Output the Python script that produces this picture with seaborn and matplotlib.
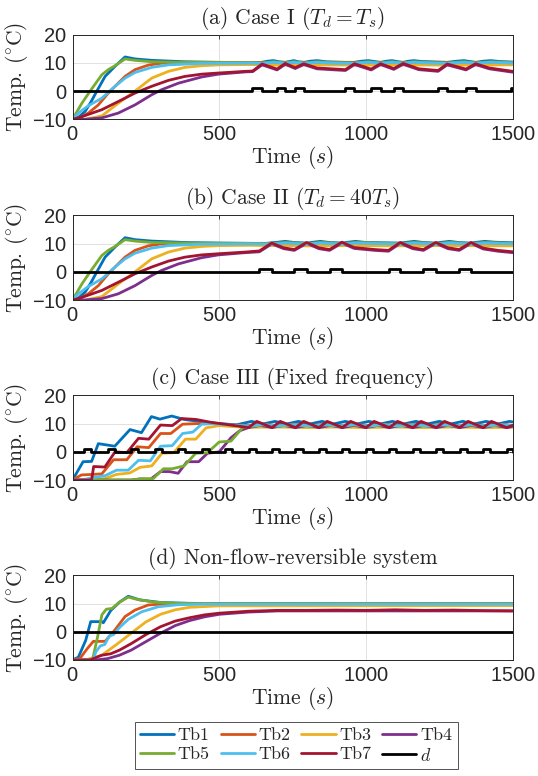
import pandas as pd
import seaborn as sns
import matplotlib
matplotlib.use("Agg")
import matplotlib.pyplot as plt
from matplotlib.lines import Line2D

# ---------------- Data ----------------
SERIES = ["Tb1", "Tb2", "Tb3", "Tb4", "Tb5", "Tb6", "Tb7"]
COLORS = ["#0072BD", "#D95319", "#EDB120", "#7E2F8E", "#77AC30", "#4DBEEE", "#A2142F"]
TITLES = [r"(a) Case I ($T_d = T_s$)", r"(b) Case II ($T_d = 40T_s$)",
          "(c) Case III (Fixed frequency)", "(d) Non-flow-reversible system"]
X_TICKS = [0, 500, 1000, 1500]
Y_TICKS = [-10, 0, 10, 20]

# start-up transient, shared by cases (a) and (b)
AB_TB1 = [(0, -10), (20, -9.3), (43, -7.2), (62, -4.0), (83, 0.0), (111, 5.2), (145, 8.8), (179, 12.1),
          (213, 11.4), (270, 10.9), (383, 10.4), (500, 10.2), (600, 10.1)]
AB_TB2 = [(0, -10), (20, -9.7), (54, -7.8), (88, -4.9), (122, -0.7), (145, 1.7), (179, 5.2), (213, 7.6),
          (258, 9.2), (304, 9.9), (400, 10.0), (600, 10.0)]
AB_TB3 = [(0, -10), (43, -10), (100, -8.8), (156, -4.3), (213, 0.0), (270, 4.6), (327, 7.0), (383, 8.4),
          (440, 9.0), (500, 9.3), (600, 9.4)]
AB_TB4 = [(0, -10), (43, -10), (100, -9.5), (156, -7.8), (213, -4.9), (270, -1.3), (304, 0.5), (361, 2.8),
          (440, 5.0), (497, 6.0), (589, 6.8)]
AB_TB5 = [(0, -10), (9, -8.4), (32, -4.3), (60, 0.0), (100, 5.8), (122, 7.6), (145, 9.0), (179, 11.4),
          (213, 10.9), (270, 10.4), (383, 10.2), (600, 10.1)]
AB_TB6 = [(0, -10), (20, -7.8), (54, -5.2), (100, -2.5), (145, 1.7), (179, 4.6), (213, 6.6), (270, 8.4),
          (327, 9.3), (440, 9.8), (600, 9.9)]
AB_TB7 = [(0, -10), (20, -9.5), (100, -6.6), (156, -3.7), (213, -0.7), (270, 1.7), (327, 3.8), (383, 5.2),
          (440, 6.0), (497, 6.4), (589, 7.0)]

# (a) Case I, after the disturbances start
A_PULSE_ON = [612, 697, 759, 930, 1018, 1095, 1246, 1341, 1495]
A_PULSE_OFF = [646, 725, 788, 961, 1050, 1127, 1277, 1374, 1500]
A_TB1_TAIL = [(640, 10.1), (665, 10.6), (685, 10.8), (705, 10.4), (725, 10.2), (740, 10.5), (754, 10.8),
              (770, 10.4), (790, 10.2), (810, 10.6), (833, 10.8), (865, 10.4), (930, 10.2), (960, 10.2),
              (985, 10.6), (1009, 10.8), (1035, 10.4), (1050, 10.2), (1070, 10.6), (1089, 10.8), (1110, 10.4),
              (1127, 10.2), (1145, 10.6), (1163, 10.8), (1190, 10.5), (1277, 10.2), (1310, 10.6), (1334, 10.8),
              (1360, 10.4), (1375, 10.2), (1400, 10.6), (1425, 10.8), (1455, 10.5), (1500, 10.3)]
A_TB2_TAIL = [(650, 10.0), (685, 10.2), (725, 10.0), (754, 10.2), (790, 10.0), (833, 10.2), (960, 10.0),
              (1009, 10.2), (1050, 10.0), (1089, 10.2), (1127, 10.0), (1163, 10.2), (1280, 10.0), (1334, 10.2),
              (1375, 10.0), (1425, 10.2), (1500, 10.0)]
A_TB3_TAIL = [(650, 9.3), (700, 9.2), (800, 9.3), (960, 9.2), (1100, 9.3), (1280, 9.2), (1500, 9.3)]
A_TB4_TAIL = [(614, 6.9), (646, 9.3), (697, 7.5), (725, 9.5), (759, 8.0), (788, 9.4), (833, 7.9), (930, 7.3),
              (961, 9.4), (1018, 7.5), (1050, 9.4), (1095, 7.7), (1127, 9.5), (1180, 7.6), (1246, 7.0),
              (1277, 9.3), (1341, 7.5), (1374, 9.4), (1420, 7.9), (1500, 6.7)]
A_TB5_TAIL = [(650, 10.0), (685, 10.4), (725, 10.0), (754, 10.4), (790, 10.0), (833, 10.4), (880, 10.1),
              (960, 10.0), (1009, 10.4), (1050, 10.0), (1089, 10.4), (1127, 10.0), (1163, 10.4), (1220, 10.1),
              (1280, 10.0), (1334, 10.4), (1375, 10.0), (1425, 10.4), (1500, 10.1)]
A_TB6_TAIL = [(650, 9.8), (685, 10.2), (725, 9.8), (754, 10.2), (790, 9.8), (833, 10.2), (880, 9.9),
              (960, 9.8), (1009, 10.2), (1050, 9.8), (1089, 10.2), (1127, 9.8), (1163, 10.2), (1220, 9.9),
              (1280, 9.8), (1334, 10.2), (1375, 9.8), (1425, 10.2), (1500, 9.9)]
A_TB7_TAIL = [(614, 7.1), (646, 9.6), (697, 7.8), (725, 9.8), (759, 8.3), (788, 9.7), (833, 8.2), (930, 7.6),
              (961, 9.7), (1018, 7.8), (1050, 9.7), (1095, 8.0), (1127, 9.8), (1180, 7.9), (1246, 7.3),
              (1277, 9.6), (1341, 7.8), (1374, 9.7), (1420, 8.2), (1500, 7.0)]

# (b) Case II
B_PULSE_ON = [637, 756, 876, 1077, 1196, 1318]
B_PULSE_OFF = [679, 798, 918, 1117, 1238, 1358]
B_TB1_TAIL = [(660, 10.1), (700, 10.5), (725, 10.8), (755, 10.4), (800, 10.2), (820, 10.5), (845, 10.8),
              (875, 10.4), (920, 10.2), (940, 10.5), (965, 10.8), (1000, 10.4), (1060, 10.3), (1117, 10.2),
              (1140, 10.5), (1165, 10.8), (1195, 10.4), (1238, 10.2), (1260, 10.5), (1285, 10.8), (1315, 10.4),
              (1358, 10.2), (1380, 10.5), (1405, 10.8), (1440, 10.5), (1500, 10.3)]
B_TB2_TAIL = [(680, 10.0), (725, 10.2), (800, 10.0), (845, 10.2), (920, 10.0), (965, 10.2), (1117, 10.0),
              (1165, 10.2), (1238, 10.0), (1285, 10.2), (1358, 10.0), (1405, 10.2), (1500, 10.0)]
B_TB3_TAIL = [(700, 9.3), (800, 9.2), (950, 9.3), (1100, 9.2), (1250, 9.3), (1500, 9.2)]
B_TB4_TAIL = [(637, 7.1), (679, 9.9), (720, 8.2), (756, 7.6), (798, 10.1), (840, 8.2), (876, 7.6), (918, 10.2),
              (960, 8.3), (1030, 7.6), (1077, 7.3), (1117, 10.1), (1160, 8.2), (1196, 7.6), (1238, 10.1),
              (1280, 8.2), (1318, 7.6), (1358, 10.1), (1400, 8.1), (1450, 7.3), (1500, 6.8)]
B_TB5_TAIL = [(680, 10.0), (725, 10.4), (800, 10.0), (845, 10.4), (920, 10.0), (965, 10.4), (1117, 10.0),
              (1165, 10.4), (1238, 10.0), (1285, 10.4), (1358, 10.0), (1405, 10.4), (1500, 10.1)]
B_TB6_TAIL = [(680, 9.8), (725, 10.2), (800, 9.8), (845, 10.2), (920, 9.8), (965, 10.2), (1117, 9.8),
              (1165, 10.2), (1238, 9.8), (1285, 10.2), (1358, 9.8), (1405, 10.2), (1500, 9.9)]
B_TB7_TAIL = [(637, 7.4), (679, 10.2), (720, 8.5), (756, 7.9), (798, 10.4), (840, 8.5), (876, 7.9), (918, 10.5),
              (960, 8.6), (1030, 7.9), (1077, 7.6), (1117, 10.4), (1160, 8.5), (1196, 7.9), (1238, 10.4),
              (1280, 8.5), (1318, 7.9), (1358, 10.4), (1400, 8.4), (1450, 7.6), (1500, 7.1)]

# (c) Case III, fixed-frequency switching
C_PULSE_ON = [40, 120, 200, 280, 360, 440, 520, 600, 680, 760, 840, 920, 1000, 1080, 1160, 1240, 1320, 1400, 1480]
C_PULSE_OFF = [64, 144, 224, 304, 384, 464, 544, 624, 704, 784, 864, 944, 1024, 1104, 1184, 1264, 1344, 1424, 1500]
C_TB1 = [(0, -10), (36, -3.5), (65, -3.4), (88, 2.9), (144, 2.0), (196, 7.9), (235, 6.8), (269, 12.5),
         (298, 11.6), (338, 12.7), (380, 11.5), (430, 10.8), (500, 10.0), (560, 9.6), (610, 10.8), (650, 9.9),
         (690, 10.8), (730, 9.9), (770, 10.8), (810, 9.9), (850, 10.8), (890, 9.9), (930, 10.8), (970, 9.9),
         (1010, 10.8), (1050, 9.9), (1090, 10.8), (1130, 9.9), (1170, 10.8), (1210, 9.9), (1250, 10.8),
         (1290, 9.9), (1330, 10.8), (1370, 9.9), (1410, 10.8), (1450, 9.9), (1490, 10.8), (1500, 10.6)]
C_TB2 = [(0, -10), (30, -8.2), (70, -8.0), (100, -7.8), (140, -2.8), (185, -2.8), (220, 1.8), (260, 1.5),
         (300, 6.5), (335, 6.5), (375, 9.8), (420, 10.0), (480, 10.0), (540, 9.5), (600, 9.4), (650, 9.8),
         (700, 9.3), (760, 9.8), (810, 9.3), (860, 9.8), (910, 9.3), (960, 9.8), (1010, 9.3), (1060, 9.8),
         (1110, 9.3), (1160, 9.8), (1210, 9.3), (1260, 9.8), (1310, 9.3), (1360, 9.8), (1410, 9.3),
         (1460, 9.8), (1500, 9.4)]
C_TB3 = [(0, -10), (70, -10), (110, -9.5), (150, -8.0), (195, -7.5), (230, -5.5), (270, -5.0), (305, -0.5),
         (345, -0.3), (385, 4.5), (420, 4.5), (455, 8.5), (500, 9.3), (540, 9.0), (600, 8.7), (700, 8.8),
         (800, 8.6), (900, 8.8), (1000, 8.6), (1100, 8.8), (1200, 8.6), (1300, 8.8), (1400, 8.6), (1500, 8.7)]
C_TB4 = [(0, -10), (200, -10), (230, -9.6), (265, -9.8), (300, -7.0), (330, -7.0), (360, -7.6), (390, -3.5),
         (430, -3.5), (460, -0.5), (500, 0.0), (540, 5.0), (570, 7.5), (600, 8.6), (640, 9.4), (680, 8.6),
         (720, 9.4), (760, 8.6), (800, 9.4), (840, 8.6), (880, 9.4), (920, 8.6), (960, 9.4), (1000, 8.6),
         (1040, 9.4), (1080, 8.6), (1120, 9.4), (1160, 8.6), (1200, 9.4), (1240, 8.6), (1280, 9.4),
         (1320, 8.6), (1360, 9.4), (1400, 8.6), (1440, 9.4), (1480, 8.6), (1500, 9.0)]
C_TB5 = [(0, -10), (200, -10), (240, -9.5), (275, -9.5), (310, -6.0), (340, -6.0), (380, -5.0), (420, -0.5),
         (460, -0.3), (500, 3.5), (540, 3.8), (580, 8.6), (610, 9.0), (650, 9.6), (700, 9.1), (760, 9.6),
         (810, 9.1), (860, 9.6), (910, 9.1), (960, 9.6), (1010, 9.1), (1060, 9.6), (1110, 9.1), (1160, 9.6),
         (1210, 9.1), (1260, 9.6), (1310, 9.1), (1360, 9.6), (1410, 9.1), (1460, 9.6), (1500, 9.2)]
C_TB6 = [(0, -10), (40, -9.8), (75, -9.0), (110, -8.5), (150, -6.5), (190, -6.5), (225, -3.0), (265, -3.2),
         (300, 2.0), (340, 2.2), (375, 6.5), (410, 7.0), (440, 9.8), (480, 10.0), (540, 9.5), (600, 9.2),
         (650, 9.6), (700, 9.2), (760, 9.6), (810, 9.2), (860, 9.6), (910, 9.2), (960, 9.6), (1010, 9.2),
         (1060, 9.6), (1110, 9.2), (1160, 9.6), (1210, 9.2), (1260, 9.6), (1310, 9.2), (1360, 9.6),
         (1410, 9.2), (1460, 9.6), (1500, 9.3)]
C_TB7 = [(0, -10), (65, -10), (72, -5.2), (110, -5.4), (145, 0.0), (185, -0.3), (225, 4.8), (260, 4.5),
         (300, 9.5), (340, 9.3), (372, 11.8), (420, 11.5), (470, 10.5), (540, 9.5), (600, 8.6), (628, 10.8),
         (680, 8.6), (708, 10.8), (760, 8.6), (788, 10.8), (840, 8.6), (868, 10.8), (920, 8.6), (948, 10.8),
         (1000, 8.6), (1028, 10.8), (1080, 8.6), (1108, 10.8), (1160, 8.6), (1188, 10.8), (1240, 8.6),
         (1268, 10.8), (1320, 8.6), (1348, 10.8), (1400, 8.6), (1428, 10.8), (1480, 8.6), (1500, 9.4)]

# (d) Non-flow-reversible system, d stays at 0
D_TB1 = [(0, -10), (20, -9.0), (45, -3.0), (62, 3.6), (100, 3.6), (105, 3.2), (130, 7.5), (160, 10.5),
         (190, 12.6), (230, 11.3), (300, 10.4), (400, 10.1), (500, 10.0), (1500, 10.0)]
D_TB2 = [(0, -10), (25, -9.5), (50, -6.0), (71, -3.4), (111, -3.4), (145, 0.7), (179, 5.4), (213, 7.7),
         (258, 9.5), (327, 10.0), (1500, 10.0)]
D_TB3 = [(0, -10), (50, -9.8), (100, -8.3), (150, -4.5), (200, -0.5), (250, 3.5), (300, 6.2), (350, 7.8),
         (400, 8.7), (500, 9.2), (1500, 9.3)]
D_TB4 = [(0, -10), (80, -10), (120, -9.5), (160, -8.3), (200, -6.5), (250, -3.5), (300, -0.5), (350, 2.2),
         (400, 4.0), (450, 5.3), (500, 6.2), (600, 7.0), (700, 7.4), (1500, 7.4)]
D_TB5 = [(0, -10), (68, -10), (85, -2.0), (100, 6.0), (115, 8.0), (135, 8.3), (160, 10.5), (190, 12.3),
         (220, 11.5), (280, 10.5), (350, 10.1), (500, 10.0), (1500, 10.0)]
D_TB6 = [(0, -10), (70, -10), (80, -7.0), (95, -5.0), (110, -4.5), (125, -1.5), (140, -1.0), (160, 1.5),
         (190, 4.4), (236, 7.1), (293, 8.9), (361, 9.6), (450, 9.8), (1500, 9.8)]
D_TB7 = [(0, -10), (60, -10), (100, -8.3), (130, -7.8), (160, -6.5), (200, -4.2), (250, -1.0), (300, 1.8),
         (350, 3.8), (400, 5.0), (450, 6.0), (500, 6.6), (600, 7.3), (700, 7.6), (800, 7.6), (900, 7.7),
         (1000, 7.6), (1100, 7.8), (1200, 7.6), (1300, 7.7), (1400, 7.5), (1500, 7.4)]


def pulse_points(on, off):
    pts = [(0, 0)]
    for a, b in zip(on, off):
        pts += [(a, 0), (a, 1), (b, 1), (b, 0)]
    pts.append((1500, 0))
    return pts


def panel_frame(curves):
    rows = []
    for name, pts in curves:
        for t, v in pts:
            rows.append({"series": name, "t": t, "temp": v})
    return pd.DataFrame(rows)


panels = [
    panel_frame(list(zip(SERIES, [AB_TB1 + A_TB1_TAIL, AB_TB2 + A_TB2_TAIL, AB_TB3 + A_TB3_TAIL,
                                  AB_TB4 + A_TB4_TAIL, AB_TB5 + A_TB5_TAIL, AB_TB6 + A_TB6_TAIL,
                                  AB_TB7 + A_TB7_TAIL])) + [("d", pulse_points(A_PULSE_ON, A_PULSE_OFF))]),
    panel_frame(list(zip(SERIES, [AB_TB1 + B_TB1_TAIL, AB_TB2 + B_TB2_TAIL, AB_TB3 + B_TB3_TAIL,
                                  AB_TB4 + B_TB4_TAIL, AB_TB5 + B_TB5_TAIL, AB_TB6 + B_TB6_TAIL,
                                  AB_TB7 + B_TB7_TAIL])) + [("d", pulse_points(B_PULSE_ON, B_PULSE_OFF))]),
    panel_frame(list(zip(SERIES, [C_TB1, C_TB2, C_TB3, C_TB4, C_TB5, C_TB6, C_TB7]))
                + [("d", pulse_points(C_PULSE_ON, C_PULSE_OFF))]),
    panel_frame(list(zip(SERIES, [D_TB1, D_TB2, D_TB3, D_TB4, D_TB5, D_TB6, D_TB7]))
                + [("d", pulse_points([], []))]),
]

# ---------------- Style ----------------
sns.set_theme(style="white")
plt.rcParams["font.family"] = ["Liberation Sans", "DejaVu Sans"]
plt.rcParams["mathtext.fontset"] = "cm"
plt.rcParams["axes.unicode_minus"] = False
plt.rcParams["axes.formatter.use_mathtext"] = True
CM = "cmr10"

palette = dict(zip(SERIES + ["d"], COLORS + ["#000000"]))
hue_order = SERIES + ["d"]

fig = plt.figure(figsize=(5.38, 7.76), dpi=100)
bottoms = [0.8463, 0.6134, 0.3814, 0.1495]

for df, title, b in zip(panels, TITLES, bottoms):
    ax = fig.add_axes([0.1348, b, 0.818, 0.109])
    sns.lineplot(data=df, x="t", y="temp", hue="series", hue_order=hue_order, palette=palette,
                 estimator=None, sort=False, linewidth=2, legend=False, ax=ax)
    ax.set_xlim(0, 1500)
    ax.set_ylim(-10, 20)
    ax.set_xticks(X_TICKS)
    ax.set_yticks(Y_TICKS)
    ax.tick_params(direction="in", length=3, width=0.6, labelsize=14.5, colors="#262626",
                   top=True, right=True, pad=4)
    ax.grid(True, color="#dcdcdc", linewidth=0.6)
    for s in ax.spines.values():
        s.set_color("#262626")
        s.set_linewidth(0.7)
    ax.set_title(title, fontsize=15.5, family=CM, pad=8)
    ax.set_xlabel(r"Time ($s$)", fontsize=15.5, family=CM, labelpad=0)
    ax.set_ylabel(r"Temp. $(^{\circ}\mathrm{C})$", fontsize=15.5, family=CM, labelpad=1)

handles = [Line2D([], [], color=palette[n], linewidth=2) for n in hue_order]
labels = SERIES + [r"$d$"]
order = [0, 4, 1, 5, 2, 6, 3, 7]
leg = fig.legend([handles[i] for i in order], [labels[i] for i in order], ncol=4,
                 loc="upper center", bbox_to_anchor=(0.5502, 1 - 722 / 776), frameon=True,
                 fancybox=False, edgecolor="#262626", prop={"family": CM, "size": 13},
                 handlelength=1.9, handletextpad=0.2, columnspacing=0.6, borderpad=0.3,
                 labelspacing=0.2, borderaxespad=0)
leg.get_frame().set_linewidth(0.7)

fig.savefig("out.png", dpi=100)
